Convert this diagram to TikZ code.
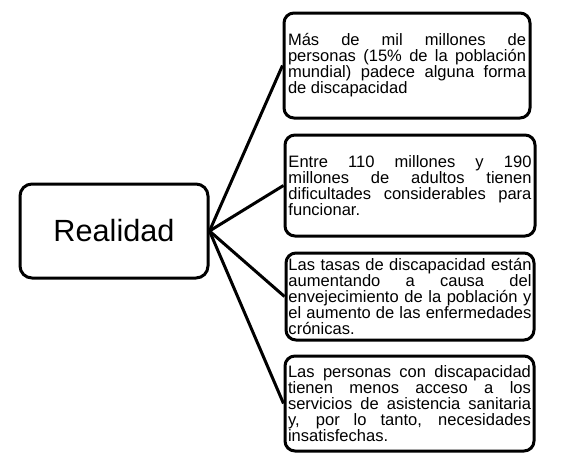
\documentclass[tikz,border=0pt]{standalone}
\usepackage{fontspec}
\setmainfont{Liberation Sans}
\begin{document}
\begin{tikzpicture}[x=0.75pt,y=-0.75pt,
  box/.style={draw, line width=2.25pt, rounded corners=7.5pt, align=justify, inner sep=0pt,
    font=\fontsize{12.4}{12}\selectfont},
  mainbox/.style={draw, line width=2.25pt, rounded corners=9pt, inner sep=0pt,
    minimum width=141pt, minimum height=70.5pt, font=\fontsize{23}{27}\selectfont},
  link/.style={line width=2.25pt}]
\useasboundingbox (0,0) rectangle (562,464);
\node[mainbox] (real) at (114,231) {Realidad};
\node[box, text width=178.5pt, minimum width=184.5pt, minimum height=78.75pt] (b1) at (407,65.5)
  {Más de mil millones de\linebreak personas (15\% de la población\linebreak mundial) padece alguna forma\linebreak de discapacidad};
\node[box, text width=182.25pt, minimum width=187.5pt, minimum height=75.75pt] (b2) at (410,185.5)
  {Entre 110 millones y 190\linebreak millones de adultos tienen\linebreak dificultades considerables para\linebreak funcionar.};
\node[box, text width=182.25pt, minimum width=186pt, minimum height=65.25pt] (b3) at (410,296.5)
  {Las tasas de discapacidad están\linebreak aumentando a causa del\linebreak envejecimiento de la población y\linebreak el aumento de las enfermedades\linebreak crónicas.};
\node[box, text width=182.25pt, minimum width=186.75pt, minimum height=71.25pt] (b4) at (409.5,403.5)
  {Las personas con discapacidad\linebreak tienen menos acceso a los\linebreak servicios de asistencia sanitaria\linebreak y, por lo tanto, necesidades\linebreak insatisfechas.};
\draw[link] (real.east) -- (b1.west);
\draw[link] (real.east) -- (b2.west);
\draw[link] (real.east) -- (b3.west);
\draw[link] (real.east) -- (b4.west);
\end{tikzpicture}
\end{document}
